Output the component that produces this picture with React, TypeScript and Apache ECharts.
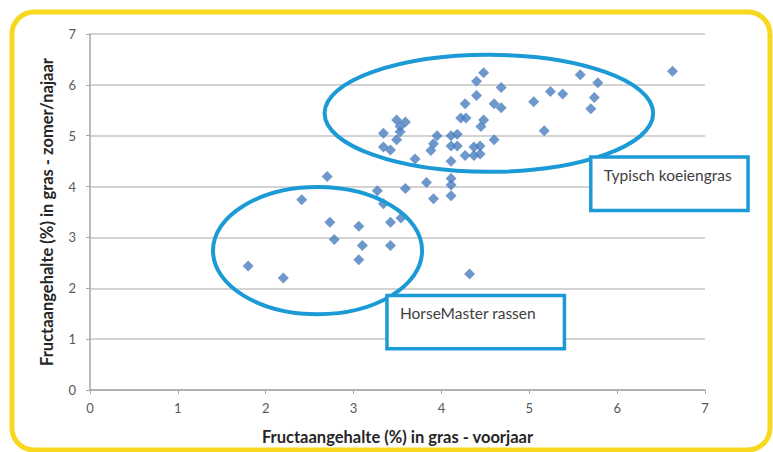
import React, { useEffect, useRef } from "react";
import * as echarts from "echarts";

// Scatter data: [voorjaar, zomer/najaar]
const springValues: number[] = [
  1.80, 2.20, 2.41, 2.70, 2.73, 2.78, 3.06, 3.10, 3.06, 3.27, 3.34, 3.42, 3.42, 3.54, 3.59, 3.83, 3.91, 3.70, 4.11, 4.11, 4.11, 4.11, 4.32,
  3.34, 3.34, 3.42, 3.49, 3.59, 3.53, 3.53, 3.49, 3.88, 3.91, 3.95, 4.11, 4.18, 4.11, 4.18, 4.27, 4.37, 4.44, 4.37, 4.44,
  4.22, 4.28, 4.27, 4.40, 4.40, 4.48, 4.48, 4.45, 4.60, 4.60, 4.68, 4.68, 5.05, 5.17, 5.24, 5.38, 5.58, 5.70, 5.74, 5.78, 6.63,
];
const summerValues: number[] = [
  2.44, 2.20, 3.74, 4.20, 3.30, 2.96, 3.22, 2.84, 2.56, 3.92, 3.66, 3.30, 2.84, 3.38, 3.96, 4.08, 3.76, 4.54, 3.82, 4.03, 4.16, 4.50, 2.28,
  5.05, 4.78, 4.72, 5.31, 5.27, 5.18, 5.08, 4.92, 4.71, 4.84, 5.00, 5.00, 5.03, 4.80, 4.80, 4.61, 4.78, 4.80, 4.61, 4.64,
  5.35, 5.35, 5.63, 5.79, 6.07, 6.24, 5.31, 5.18, 4.92, 5.63, 5.95, 5.55, 5.67, 5.10, 5.87, 5.82, 6.20, 5.53, 5.75, 6.04, 6.27,
];
const xTicks = [0, 1, 2, 3, 4, 5, 6, 7];
const yTicks = [0, 1, 2, 3, 4, 5, 6, 7];

const xTitle = "Fructaangehalte (%) in gras - voorjaar";
const yTitle = "Fructaangehalte (%) in gras - zomer/najaar";

// Annotations in data units: [centerX, centerY, radiusX, radiusY]
const cowEllipse = [4.54, 5.44, 1.87, 1.15];
const horseEllipse = [2.59, 2.74, 1.19, 1.25];
// Boxes in data units: [x0, yTop, x1, yBottom]
const cowBox = [5.70, 4.58, 7.49, 3.53];
const horseBox = [3.38, 1.86, 5.40, 0.81];
const cowLabel = "Typisch koeiengras";
const horseLabel = "HorseMaster rassen";

const FONT = "Lato, 'Open Sans', sans-serif";
const BLUE = "#1C9AD6";

export default function App() {
  const ref = useRef<HTMLDivElement>(null);
  useEffect(() => {
    if (!ref.current) return;
    const chart = echarts.init(ref.current, null, { renderer: "svg" });
    const points = springValues.map((x, i) => [x, summerValues[i]]);
    chart.setOption({
      animation: false,
      backgroundColor: "#ffffff",
      grid: { left: 90, right: 68, top: 34, bottom: 62, containLabel: false },
      xAxis: {
        type: "value",
        min: xTicks[0],
        max: xTicks[xTicks.length - 1],
        interval: 1,
        name: xTitle,
        nameLocation: "middle",
        nameGap: 38,
        nameTextStyle: { fontFamily: FONT, fontWeight: "bold", fontSize: 16.5, color: "#262626" },
        axisLine: { show: true, lineStyle: { color: "#a6a6a6", width: 1.5 } },
        axisTick: { show: true, length: 4, lineStyle: { color: "#a6a6a6" } },
        axisLabel: { fontFamily: FONT, fontSize: 13, color: "#595959", margin: 11 },
        splitLine: { show: false },
      },
      yAxis: {
        type: "value",
        min: yTicks[0],
        max: yTicks[yTicks.length - 1],
        interval: 1,
        name: yTitle,
        nameLocation: "middle",
        nameGap: 35,
        nameTextStyle: { fontFamily: FONT, fontWeight: "bold", fontSize: 16.5, color: "#262626" },
        axisLine: { show: true, lineStyle: { color: "#a6a6a6", width: 1.5 } },
        axisTick: { show: true, length: 4, lineStyle: { color: "#a6a6a6" } },
        axisLabel: { fontFamily: FONT, fontSize: 13, color: "#595959", margin: 14 },
        splitLine: { show: true, lineStyle: { color: "#c4c4c4", width: 1.5 } },
      },
      series: [
        {
          type: "scatter",
          symbol: "diamond",
          symbolSize: 11,
          itemStyle: { color: "#4A7EBF" },
          data: points,
          z: 3,
        },
      ],
    });

    const px = (x: number, y: number) => chart.convertToPixel({ gridIndex: 0 }, [x, y]) as number[];
    const ellipse = (e: number[]) => {
      const c = px(e[0], e[1]);
      const r = px(e[0] + e[2], e[1] - e[3]);
      return {
        type: "ellipse",
        shape: { cx: c[0], cy: c[1], rx: r[0] - c[0], ry: r[1] - c[1] },
        style: { fill: "none", stroke: BLUE, lineWidth: 4 },
        z: 10,
      };
    };
    const box = (b: number[], label: string) => {
      const a = px(b[0], b[1]);
      const c = px(b[2], b[3]);
      return [
        {
          type: "rect",
          shape: { x: a[0], y: a[1], width: c[0] - a[0], height: c[1] - a[1] },
          style: { fill: "#ffffff", stroke: BLUE, lineWidth: 3.5 },
          z: 11,
        },
        {
          type: "text",
          x: a[0] + 13,
          y: a[1] + 18,
          style: {
            text: label,
            fontFamily: FONT,
            fontSize: 15.5,
            fill: "#404040",
            verticalAlign: "middle",
          },
          z: 12,
        },
      ];
    };
    chart.setOption({
      graphic: [
        {
          type: "rect",
          shape: { x: 12, y: 12, width: 758, height: 438, r: 22 },
          style: { fill: "none", stroke: "#F7D81E", lineWidth: 5 },
          z: 20,
        },
        ellipse(cowEllipse),
        ellipse(horseEllipse),
        ...box(cowBox, cowLabel),
        ...box(horseBox, horseLabel),
      ],
    });
    return () => chart.dispose();
  }, []);
  return (
    <div
      ref={ref}
      style={{ position: "fixed", left: 0, top: 0, width: 773, height: 452 }}
    />
  );
}
